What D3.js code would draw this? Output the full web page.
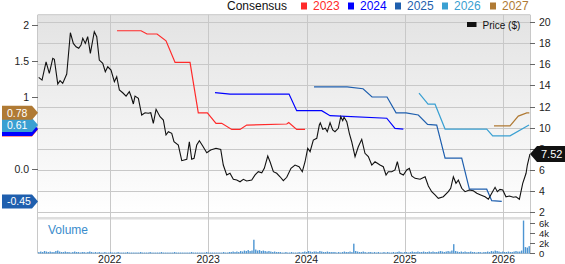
<!DOCTYPE html>
<html>
<head>
<meta charset="utf-8">
<script src="https://cdn.jsdelivr.net/npm/d3@7"></script>
<style>
    body { margin: 0; background: #fff; }
    svg { display: block; font-family: "Liberation Sans", Arial, sans-serif; }
</style>
</head>
<body>
<svg id="chart" width="565" height="264"></svg>
<script>
// ---- data (time as decimal years) ----
var yearTicks = [2022, 2023, 2024, 2025, 2026];
var priceTicks = [2, 4, 6, 8, 10, 12, 14, 16, 18, 20];
var epsTicks = [0, 1, 1.5, 2];
var epsTickLabels = ['0.0', '1', '1.5', '2'];
var volTicks = [0, 2, 4, 6];
var volTickLabels = ['0', '2k', '4k', '6k'];

var priceT = [
    2021.278, 2021.312, 2021.353, 2021.386, 2021.421, 2021.437, 2021.472, 2021.495, 2021.522, 2021.563,
    2021.600, 2021.630, 2021.658, 2021.685, 2021.708, 2021.726, 2021.752, 2021.776, 2021.803, 2021.843,
    2021.868, 2021.894, 2021.929, 2021.955, 2021.980, 2022.013, 2022.047, 2022.071, 2022.098, 2022.132,
    2022.166, 2022.199, 2022.216, 2022.240, 2022.257, 2022.291, 2022.325, 2022.359, 2022.392, 2022.417,
    2022.443, 2022.471, 2022.511, 2022.545, 2022.572, 2022.596, 2022.630, 2022.653, 2022.697, 2022.732,
    2022.783, 2022.809, 2022.833, 2022.857, 2022.884, 2022.911, 2022.945, 2022.986, 2023.026, 2023.080,
    2023.128, 2023.154, 2023.189, 2023.222, 2023.256, 2023.291, 2023.324, 2023.358, 2023.392, 2023.443,
    2023.477, 2023.510, 2023.545, 2023.571, 2023.606, 2023.629, 2023.663, 2023.697, 2023.731, 2023.764,
    2023.799, 2023.842, 2023.883, 2023.924, 2023.957, 2023.985, 2024.012, 2024.036, 2024.069, 2024.104,
    2024.130, 2024.140, 2024.165, 2024.191, 2024.211, 2024.239, 2024.266, 2024.289, 2024.323, 2024.348,
    2024.368, 2024.381, 2024.409, 2024.435, 2024.459, 2024.493, 2024.526, 2024.561, 2024.594, 2024.628,
    2024.663, 2024.696, 2024.747, 2024.780, 2024.808, 2024.831, 2024.866, 2024.899, 2024.923, 2024.950,
    2024.984, 2025.018, 2025.045, 2025.069, 2025.103, 2025.154, 2025.205, 2025.238, 2025.272, 2025.306,
    2025.339, 2025.390, 2025.441, 2025.465, 2025.492, 2025.519, 2025.543, 2025.577, 2025.611, 2025.654,
    2025.695, 2025.730, 2025.770, 2025.814, 2025.848, 2025.882, 2025.916, 2025.939, 2025.966, 2025.994,
    2026.027, 2026.061, 2026.102, 2026.129, 2026.163, 2026.197, 2026.231, 2026.244, 2026.271
];
var priceV = [
    14.76, 14.50, 16.23, 15.14, 16.56, 16.46, 14.13, 14.44, 14.19, 15.07,
    18.98, 17.97, 17.65, 17.50, 17.81, 18.45, 17.97, 18.60, 17.03, 19.07,
    18.60, 16.39, 16.08, 15.29, 15.76, 15.45, 14.34, 14.82, 13.56, 13.30,
    12.99, 13.40, 12.99, 12.24, 12.99, 12.78, 11.20, 11.41, 11.36, 11.41,
    10.41, 11.74, 11.04, 10.72, 9.31, 9.62, 9.47, 8.67, 8.36, 6.88,
    7.01, 8.67, 7.01, 7.10, 8.36, 8.77, 8.27, 7.63, 7.89, 8.05,
    7.95, 6.47, 5.53, 5.69, 5.12, 5.05, 4.89, 5.12, 4.96, 5.05,
    5.53, 5.84, 5.74, 6.16, 7.32, 6.78, 5.84, 5.69, 5.36, 4.99,
    5.31, 6.16, 6.47, 6.31, 5.84, 6.78, 8.05, 7.73, 8.83, 8.99,
    10.25, 10.45, 9.84, 9.94, 9.62, 10.47, 9.78, 9.62, 9.94, 11.04,
    10.66, 10.98, 10.56, 9.47, 8.67, 7.26, 8.20, 8.90, 7.58, 7.26,
    6.47, 6.78, 6.47, 6.31, 5.53, 5.84, 5.84, 6.00, 6.78, 5.69,
    5.53, 6.00, 6.16, 5.43, 5.21, 5.12, 5.36, 4.49, 3.95, 3.64,
    3.32, 3.47, 3.95, 4.27, 5.36, 4.74, 5.05, 4.27, 3.95, 4.11,
    4.04, 3.80, 3.64, 3.47, 3.23, 3.80, 4.36, 3.95, 4.17, 4.11,
    3.47, 3.54, 3.42, 3.47, 3.23, 4.74, 5.69, 6.47, 7.52
];

// consensus EPS estimate per fiscal year: [decimal year, eps]
var seriesNames = ['2023', '2024', '2025', '2026', '2027'];
var eps2023 = [[2022.074, 1.92], [2022.318, 1.92], [2022.379, 1.875], [2022.481, 1.875], [2022.572, 1.78],
    [2022.664, 1.48], [2022.816, 1.48], [2022.900, 0.78], [2022.992, 0.78], [2023.080, 0.635],
    [2023.138, 0.635], [2023.240, 0.55], [2023.324, 0.55], [2023.392, 0.61], [2023.799, 0.625],
    [2023.819, 0.645], [2023.900, 0.55], [2023.985, 0.55]];
var eps2024 = [[2023.070, 1.06], [2023.223, 1.04], [2023.822, 1.04], [2023.900, 0.81], [2024.154, 0.81],
    [2024.239, 0.74], [2024.815, 0.705], [2024.899, 0.565], [2024.984, 0.555]];
var eps2025 = [[2024.076, 1.14], [2024.412, 1.14], [2024.574, 1.115], [2024.666, 1.00], [2024.818, 1.00],
    [2024.910, 0.78], [2025.011, 0.78], [2025.136, 0.75], [2025.230, 0.62], [2025.323, 0.61],
    [2025.408, 0.15], [2025.577, 0.15], [2025.655, -0.28], [2025.831, -0.28], [2025.882, -0.44],
    [2025.984, -0.45]];
var eps2026 = [[2025.143, 1.055], [2025.235, 0.90], [2025.306, 0.90], [2025.408, 0.555], [2025.831, 0.555],
    [2025.892, 0.46], [2026.068, 0.46], [2026.261, 0.61]];
var eps2027 = [[2025.905, 0.60], [2026.068, 0.60], [2026.152, 0.735], [2026.238, 0.78], [2026.264, 0.78]];
var epsSeries = [eps2023, eps2024, eps2025, eps2026, eps2027];
var seriesColors = ['#ff2a2a', '#0000ff', '#1f5fae', '#3aa0d2', '#b07a34'];

// weekly volume (thousands), first week at volStart
var volStart = 2021.28;
var volume = [
    0.3, 0.4, 0.3, 0.5, 0.4, 0.3, 0.4, 0.3, 0.3, 0.5, 0.6, 0.4, 0.3, 0.3, 0.4, 0.3, 0.3, 0.2, 0.3, 0.4, 0.3, 0.3, 0.2, 0.3, 0.3, 0.2,
    0.3, 0.4, 0.3, 0.2, 0.3, 0.2, 0.3, 0.2, 0.2, 0.3, 0.2, 0.2, 0.3, 0.2, 0.2, 0.2, 0.3, 0.2, 0.2, 0.2, 0.2, 0.3, 0.2, 0.2, 0.2, 0.2,
    0.2, 0.2, 0.3, 0.2, 0.2, 0.2, 0.2, 0.3, 0.2, 0.2, 0.2, 0.2, 0.2, 0.3, 0.2, 0.2, 0.2, 0.2, 0.2, 0.2, 0.3, 0.2, 0.2, 0.2, 0.2, 0.2,
    0.2, 0.2, 0.2, 0.3, 0.2, 0.2, 0.2, 0.2, 0.2, 0.2, 0.2, 0.3, 0.2, 0.2, 0.2, 0.2, 0.2, 0.2, 0.2, 0.2, 0.3, 0.2, 0.2, 0.3, 0.3, 0.4,
    0.3, 0.4, 0.3, 0.5, 0.4, 0.6, 0.5, 0.7, 0.5, 0.6, 2.8, 0.8, 0.6, 0.7, 0.5, 0.6, 0.5, 0.4, 0.5, 0.4, 0.3, 0.4, 0.3, 0.3, 0.3, 0.2,
    0.2, 0.3, 0.2, 0.2, 0.3, 0.2, 0.2, 0.2, 0.3, 0.2, 0.3, 0.4, 0.3, 0.5, 0.4, 0.3, 0.4, 0.4, 0.3, 0.5, 0.4, 0.3, 0.3, 0.4, 0.3, 0.3,
    0.3, 0.3, 0.2, 0.3, 0.2, 0.3, 0.4, 0.3, 0.3, 0.4, 0.3, 2.0, 0.5, 0.4, 0.3, 0.3, 0.4, 0.3, 0.2, 0.3, 0.3, 0.2, 0.3, 0.2, 0.3, 0.2,
    0.2, 0.3, 0.2, 0.3, 0.2, 0.2, 0.3, 0.2, 0.3, 0.4, 0.3, 0.2, 0.3, 0.3, 0.2, 0.3, 0.4, 0.3, 0.3, 0.4, 0.3, 0.3, 0.4, 0.3, 0.3, 0.4,
    0.3, 0.4, 0.3, 0.3, 0.4, 0.5, 0.4, 0.3, 0.4, 0.5, 0.4, 0.6, 1.9, 0.5, 0.4, 0.3, 0.4, 0.3, 0.4, 0.3, 0.3, 0.4, 0.3, 0.3, 0.2, 0.3,
    0.3, 0.2, 0.3, 0.3, 0.4, 0.3, 0.5, 0.4, 0.6, 0.5, 0.4, 0.3, 0.4, 0.3, 0.3, 0.4, 0.3, 0.3, 0.4, 0.5, 0.4, 0.4, 0.6, 6.7, 1.3, 1.2,
    1.5
];

// ---- layout ----
var svg = d3.select('#chart');
// note: not "top", that one is window.top
var plotLeft = 38, plotRight = 530, plotTop = 14.7, mainBottom = 217, volTop = 219.5, volBottom = 253.5;
var gridColor = '#c8c8c8';

var x = d3.scaleLinear().domain([2021.271, 2026.271]).range([plotLeft, plotRight]);
var yPrice = d3.scaleLinear().domain([2, 20]).range([212.3, 21.9]);
var yEps = d3.scaleLinear().domain([0, 2]).range([169, 25]);
var yVol = d3.scaleLinear().domain([0, 6]).range([volBottom, 224]);

var defs = svg.append('defs');
var grad = defs.append('linearGradient').attr('id', 'bg').attr('x1', 0).attr('y1', 0).attr('x2', 0).attr('y2', 1);
grad.append('stop').attr('offset', '0%').attr('stop-color', '#e3e3e3');
grad.append('stop').attr('offset', '100%').attr('stop-color', '#ffffff');
defs.append('clipPath').attr('id', 'mainClip').append('rect')
    .attr('x', plotLeft).attr('y', plotTop).attr('width', plotRight - plotLeft).attr('height', mainBottom - plotTop);

svg.append('rect').attr('x', plotLeft).attr('y', plotTop).attr('width', plotRight - plotLeft).attr('height', mainBottom - plotTop)
    .attr('fill', 'url(#bg)');
svg.append('rect').attr('x', plotLeft).attr('y', mainBottom).attr('width', plotRight - plotLeft).attr('height', volTop - mainBottom)
    .attr('fill', '#dedede');

// horizontal grid on the price axis
svg.append('g').selectAll('line').data(priceTicks).enter().append('line')
    .attr('x1', plotLeft).attr('x2', plotRight)
    .attr('y1', function(d) { return Math.round(yPrice(d)) + 0.5; })
    .attr('y2', function(d) { return Math.round(yPrice(d)) + 0.5; })
    .attr('stroke', gridColor);

// vertical year grid through both panels
svg.append('g').selectAll('line').data(yearTicks).enter().append('line')
    .attr('x1', function(d) { return Math.round(x(d)) + 0.5; })
    .attr('x2', function(d) { return Math.round(x(d)) + 0.5; })
    .attr('y1', plotTop).attr('y2', volBottom)
    .attr('stroke', gridColor);

// frame
var frame = svg.append('g').attr('stroke', gridColor).attr('fill', 'none');
frame.append('line').attr('x1', plotLeft - 0.5).attr('x2', plotLeft - 0.5).attr('y1', plotTop).attr('y2', volBottom);
frame.append('line').attr('x1', plotRight + 0.5).attr('x2', plotRight + 0.5).attr('y1', plotTop).attr('y2', volBottom);
frame.append('line').attr('x1', plotLeft).attr('x2', plotRight).attr('y1', plotTop).attr('y2', plotTop);
frame.append('line').attr('x1', plotLeft).attr('x2', plotRight).attr('y1', volBottom).attr('y2', volBottom);

// volume bars
svg.append('g').selectAll('rect').data(volume).enter().append('rect')
    .attr('x', function(d, i) { return x(volStart + i / 52.18) - 0.7; })
    .attr('width', 1.4)
    .attr('y', function(d) { return yVol(d); })
    .attr('height', function(d) { return volBottom - yVol(d); })
    .attr('fill', '#4d95d2');

svg.append('text').attr('x', 48).attr('y', 233.5).attr('font-size', 12).attr('fill', '#3a8ccc').text('Volume');

// consensus lines
var epsLine = d3.line().x(function(d) { return x(d[0]); }).y(function(d) { return yEps(d[1]); });
var plot = svg.append('g').attr('clip-path', 'url(#mainClip)');
epsSeries.forEach(function(s, i) {
    plot.append('path').attr('d', epsLine(s)).attr('fill', 'none')
        .attr('stroke', seriesColors[i]).attr('stroke-width', 1.2);
});

// price line
var priceLine = d3.line().x(function(d, i) { return x(priceT[i]); }).y(function(d) { return yPrice(d); });
plot.append('path').attr('d', priceLine(priceV)).attr('fill', 'none')
    .attr('stroke', '#111').attr('stroke-width', 1.1);

// right price axis
var rAxis = svg.append('g').attr('font-size', 10.5).attr('fill', '#222');
priceTicks.forEach(function(t) {
    var yy = Math.round(yPrice(t)) + 0.5;
    rAxis.append('line').attr('x1', plotRight).attr('x2', plotRight + 5).attr('y1', yy).attr('y2', yy).attr('stroke', '#666');
    rAxis.append('text').attr('x', 539).attr('y', yy).attr('dy', '0.35em').text(t);
});
// volume ticks are only 10px apart, so a smaller face
volTicks.forEach(function(t, i) {
    var yy = Math.round(yVol(t)) - 0.5;
    rAxis.append('line').attr('x1', plotRight).attr('x2', plotRight + 5).attr('y1', yy).attr('y2', yy).attr('stroke', '#666');
    rAxis.append('text').attr('x', 539).attr('y', yy).attr('dy', '0.33em').attr('font-size', 9.5).text(volTickLabels[i]);
});

// left eps axis
var lAxis = svg.append('g').attr('font-size', 10.5).attr('fill', '#222');
epsTicks.forEach(function(t, i) {
    var yy = Math.round(yEps(t)) + 0.5;
    lAxis.append('line').attr('x1', plotLeft - 6).attr('x2', plotLeft).attr('y1', yy).attr('y2', yy).attr('stroke', '#666');
    lAxis.append('text').attr('x', 29).attr('y', yy).attr('dy', '0.35em').attr('text-anchor', 'end').text(epsTickLabels[i]);
});

// x axis years
svg.append('g').attr('font-size', 10.5).attr('fill', '#222').selectAll('text').data(yearTicks).enter().append('text')
    .attr('x', function(d) { return x(d); }).attr('y', 263).attr('text-anchor', 'middle').text(function(d) { return d; });

// last-value tags on the left, later years drawn on top;
// a tag mostly hidden under a later one gets no text
var lastVals = epsSeries.map(function(s) { return s[s.length - 1][1]; });
lastVals.forEach(function(v, i) {
    var yy = yEps(v);
    var covered = lastVals.some(function(w, j) { return j > i && Math.abs(yEps(w) - yy) < 8; });
    var g = svg.append('g').attr('transform', 'translate(0,' + yy + ')');
    g.append('path').attr('d', 'M2,-7H32L38,0L32,7H2Z').attr('fill', seriesColors[i]);
    if (!covered) {
        g.append('text').attr('x', 7).attr('dy', '0.36em').attr('font-size', 10.5).attr('fill', '#fff')
            .text(v.toFixed(2));
    }
});

// last price tag on the right
var lastP = priceV[priceV.length - 1];
var pt = svg.append('g').attr('transform', 'translate(0,' + yPrice(lastP) + ')');
pt.append('path').attr('d', 'M530,0L537,-8H565V8H537Z').attr('fill', '#111');
pt.append('text').attr('x', 541).attr('dy', '0.36em').attr('font-size', 11).attr('fill', '#fff')
    .text(lastP.toFixed(2));

// top legend
var legend = svg.append('g').attr('font-size', 12);
legend.append('text').attr('x', 227).attr('y', 10).attr('fill', '#111').text('Consensus');
var legX = [301, 348, 395, 442, 490];
seriesNames.forEach(function(n, i) {
    legend.append('rect').attr('x', legX[i]).attr('y', 2.5).attr('width', 6).attr('height', 7).attr('fill', seriesColors[i]);
    legend.append('text').attr('x', legX[i] + 12).attr('y', 10).attr('fill', seriesColors[i]).text(n);
});

// price legend
svg.append('rect').attr('x', 467).attr('y', 22).attr('width', 9.5).attr('height', 5).attr('fill', '#111');
svg.append('text').attr('x', 482.5).attr('y', 28.5).attr('font-size', 10).attr('fill', '#111').text('Price ($)');
</script>
</body>
</html>
